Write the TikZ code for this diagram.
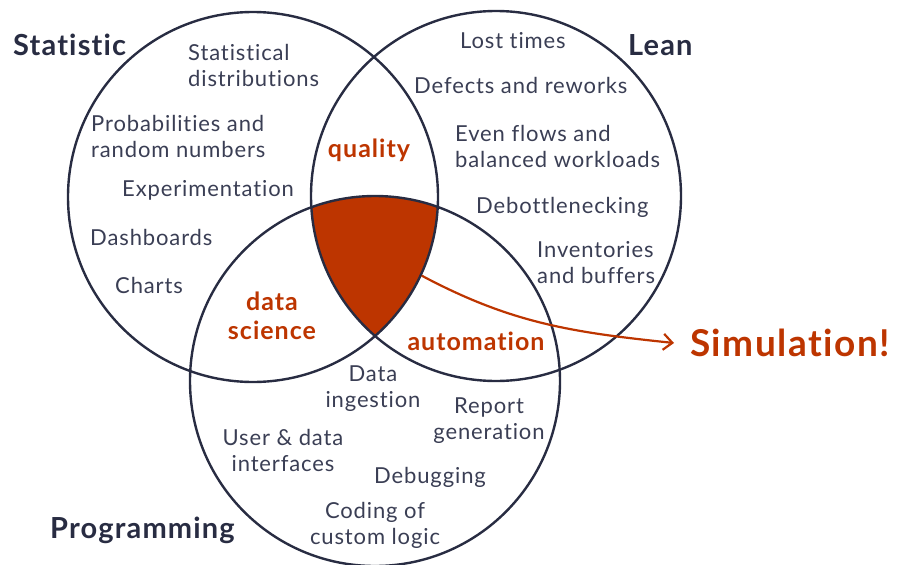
\documentclass[tikz,border=0pt]{standalone}
\usepackage{fontspec}
\setmainfont{Lato}
\newfontfamily\itemfont[LetterSpace=4, Ligatures=NoCommon]{Lato}
\newfontfamily\titlefont[LetterSpace=4, Ligatures=NoCommon]{Lato}
\newfontfamily\overfont[LetterSpace=4, Ligatures=NoCommon]{Lato}
\usetikzlibrary{arrows.meta}
\definecolor{ink}{HTML}{282C42}
\definecolor{txt}{HTML}{3A3E54}
\definecolor{rust}{HTML}{BD3500}
\tikzset{
  venn/.style={circle, draw=ink, line width=2.4pt, minimum size=370pt, inner sep=0pt},
  item/.style={text=txt, inner sep=0pt, font=\itemfont\fontsize{22}{26}\selectfont},
  title/.style={text=ink, inner sep=0pt, font=\titlefont\fontsize{29}{30}\selectfont\bfseries},
  overlap/.style={text=rust, inner sep=0pt, font=\overfont\fontsize{25}{29}\selectfont\bfseries, align=center},
}
\begin{document}
\begin{tikzpicture}[x=1pt,y=-1pt]
\useasboundingbox (0,0) rectangle (898,565);
% red triple intersection
\begin{scope}
  \clip (253,197) circle (185);
  \clip (496,196) circle (185);
  \fill[rust] (375,381) circle (185);
\end{scope}
\node[venn] (stat) at (253,197) {};
\node[venn] (lean) at (496,196) {};
\node[venn] (prog) at (375,381) {};
% titles
\node[title, anchor=west] (tstat) at (13,45) {Statistic};
\node[title, anchor=west] (tlean) at (628,45) {Lean};
\node[title, anchor=west] (tprog) at (50,530) {Programming};
% Statistic items
\node[item, anchor=west, align=left] (s1) at (188,65) {Statistical\\distributions};
\node[item, anchor=west, align=left] (s2) at (91,136) {Probabilities and\\random numbers};
\node[item, anchor=west] (s3) at (122,190) {Experimentation};
\node[item, anchor=west] (s4) at (90,237) {Dashboards};
\node[item, anchor=west] (s5) at (115,285) {Charts};
% Lean items
\node[item, anchor=west] (l1) at (460,41) {Lost times};
\node[item, anchor=west] (l2) at (414,85) {Defects and reworks};
\node[item, anchor=west, align=left] (l3) at (455,146) {Even flows and\\balanced workloads};
\node[item, anchor=west] (l4) at (476,207) {Debottlenecking};
\node[item, anchor=west, align=left] (l5) at (537,263) {Inventories\\and buffers};
% Programming items
\node[item, align=center] (p1) at (373,389) {Data\\ingestion};
\node[item, align=center] (p2) at (489,421) {Report\\generation};
\node[item, align=center] (p3) at (283,450) {User \& data\\interfaces};
\node[item] (p4) at (430,477) {Debugging};
\node[item, align=center] (p5) at (375,525) {Coding of\\custom logic};
% overlaps
\node[overlap] (q) at (369,150) {quality};
\node[overlap] (ds) at (272,316) {data\\science};
\node[overlap] (au) at (476,341) {automation};
% simulation
\node[text=rust, inner sep=0pt, anchor=west, font=\overfont\fontsize{37}{40}\selectfont\bfseries] (sim) at (690,343) {Simulation!};
\draw[rust, line width=2.2pt, -{Straight Barb[length=9pt, width=16pt, line width=2.2pt]}]
  (stat.-25) to[out=-28, in=174] ([xshift=-16pt]sim.west);
\end{tikzpicture}
\end{document}
